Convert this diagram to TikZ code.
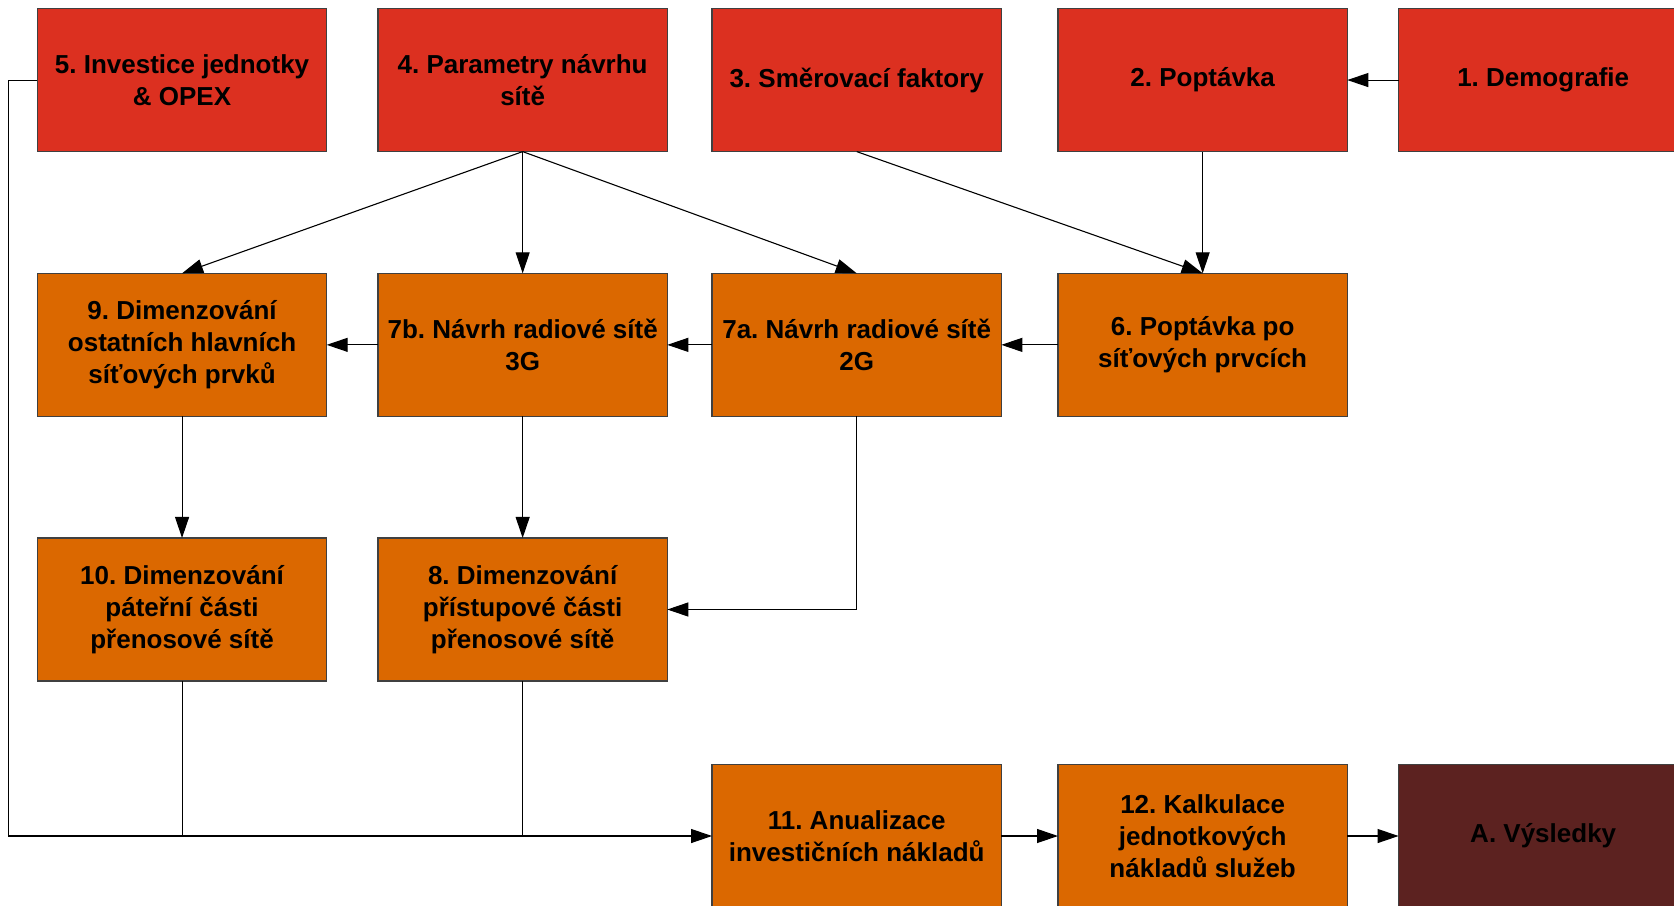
\documentclass[tikz,border=0pt]{standalone}
\usepackage{fontspec}
\setmainfont{Liberation Sans}
\frenchspacing
\usetikzlibrary{arrows.meta}
\definecolor{topred}{HTML}{DC3020}
\definecolor{midorange}{HTML}{DB6800}
\definecolor{resbrown}{HTML}{5C2220}
\definecolor{edgegray}{HTML}{404040}
\begin{document}
\begin{tikzpicture}[x=0.5pt,y=-0.5pt,
  box/.style={draw=edgegray, line width=0.6pt, rectangle, minimum width=144.65pt,
    minimum height=71.55pt, inner sep=2pt, outer sep=0pt, align=center,
    font=\fontsize{13}{16}\selectfont\bfseries, text=black},
  redbox/.style={box, fill=topred},
  orbox/.style={box, fill=midorange},
  brbox/.style={box, fill=resbrown},
  link/.style={line width=0.55pt, draw=black},
  arr/.style={link, -{Triangle[length=10.5pt, width=7pt]}}]
\useasboundingbox (0,0) rectangle (1674,905);
\clip (0,0) rectangle (1674,905);

% top row: inputs
\node[redbox] (n5) at (182.05,80.05) {5. Investice jednotky\\\& OPEX};
\node[redbox] (n4) at (522.65,80.05) {4. Parametry návrhu\\sítě};
\node[redbox] (n3) at (856.7,80.05) {3. Směrovací faktory};
\node[redbox] (n2) at (1202.65,80.05) {2. Poptávka};
\node[redbox] (n1) at (1543.2,80.05) {1. Demografie};

% second row: network design
\node[orbox] (n9) at (182.05,344.85) {9. Dimenzování\\ostatních hlavních\\síťových prvků};
\node[orbox] (n7b) at (522.65,344.85) {7b. Návrh radiové sítě\\3G};
\node[orbox] (n7a) at (856.7,344.85) {7a. Návrh radiové sítě\\2G};
\node[orbox] (n6) at (1202.65,344.85) {6. Poptávka po\\síťových prvcích};

% third row: transmission
\node[orbox] (n10) at (182.05,609.5) {10. Dimenzování\\páteřní části\\přenosové sítě};
\node[orbox] (n8) at (522.65,609.5) {8. Dimenzování\\přístupové části\\přenosové sítě};

% bottom row: costing and results
\node[orbox] (n11) at (856.7,836) {11. Anualizace\\investičních nákladů};
\node[orbox] (n12) at (1202.65,836) {12. Kalkulace\\jednotkových\\nákladů služeb};
\node[brbox] (nA) at (1543.2,836) {A. Výsledky};

% connectors
\draw[arr] (n1) -- (n2);
\draw[arr] (n2) -- (n6);
\draw[arr] (n3.south) -- (n6.north);
\draw[arr] (n4.south) -- (n9.north);
\draw[arr] (n4.south) -- (n7b.north);
\draw[arr] (n4.south) -- (n7a.north);
\draw[arr] (n6) -- (n7a);
\draw[arr] (n7a) -- (n7b);
\draw[arr] (n7b) -- (n9);
\draw[arr] (n9) -- (n10);
\draw[arr] (n7b) -- (n8);
\draw[arr] (n7a.south) |- (n8.east);

\coordinate (loop) at (8.5,836);
\draw[arr] (n5.west) -- (n5.west -| loop) -- (loop) -- (n11.west);
\draw[link] (n10.south) -- (n10.south |- n11.west);
\draw[link] (n8.south) -- (n8.south |- n11.west);

\draw[arr] (n11) -- (n12);
\draw[arr] (n12) -- (nA);
\end{tikzpicture}
\end{document}
